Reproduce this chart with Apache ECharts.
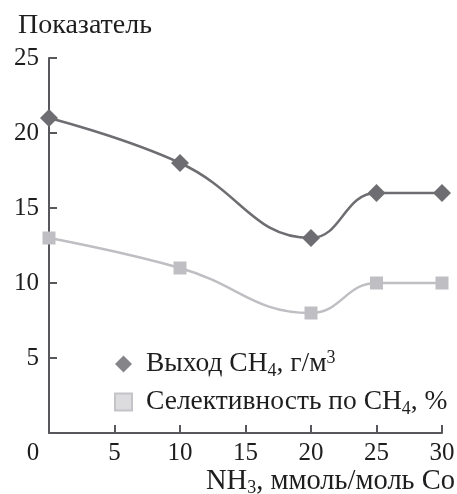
<!DOCTYPE html>
<html>
<head>
<meta charset="utf-8">
<script src="https://cdn.jsdelivr.net/npm/echarts@6/dist/echarts.min.js"></script>
<style>
html,body{margin:0;padding:0;background:#fff;}
#chart{width:457px;height:494px;}
</style>
</head>
<body>
<div id="chart"></div>
<script>
// Data
var xValues = [0, 10, 20, 25, 30];
var yieldCH4 = [21, 18, 13, 16, 16];
var selectivityCH4 = [13, 11, 8, 10, 10];
var xTicks = [0, 5, 10, 15, 20, 25, 30];
var yTicks = [0, 5, 10, 15, 20, 25];

var FONT = '"Liberation Serif", "Times New Roman", serif';
var AXIS_COLOR = '#58585c';
var DARK = '#6e6e72';
var LIGHT = '#bfbfc3';
var TXT = '#1e1e1e';

function pairs(xs, ys) { return xs.map(function (x, i) { return [x, ys[i]]; }); }

var chart = echarts.init(document.getElementById('chart'));
chart.setOption({
  backgroundColor: '#fff',
  animation: false,
  grid: { left: 49, right: 15, top: 58, bottom: 61, containLabel: false, outerBoundsMode: 'none' },
  title: {
    text: 'Показатель', left: 13, top: 7,
    textStyle: { fontFamily: FONT, fontSize: 28, fontWeight: 'normal', color: TXT }
  },
  legend: {
    orient: 'vertical', left: 109, top: 344, itemGap: 8,
    itemWidth: 17, itemHeight: 17,
    textStyle: {
      fontFamily: FONT, fontSize: 27.5, color: TXT, padding: [0, 0, 0, 9],
      rich: {
        n: { fontFamily: FONT, fontSize: 27.5, color: TXT },
        sub: { fontFamily: FONT, fontSize: 18, color: TXT, padding: [14, 0, 0, 0] },
        sup: { fontFamily: FONT, fontSize: 18, color: TXT, padding: [0, 0, 12, 0] }
      }
    },
    formatter: function (name) {
      if (name === 'yield') return '{n|Выход CH}{sub|4}{n|, г/м}{sup|3}';
      return '{n|Селективность по CH}{sub|4}{n|, %}';
    },
    data: [
      { name: 'yield', icon: 'diamond', itemStyle: { color: '#858589' } },
      { name: 'sel', icon: 'rect', itemStyle: { color: '#dcdcdf', borderColor: '#c4c4c8', borderWidth: 2 } }
    ]
  },
  xAxis: {
    type: 'value', min: 0, max: 30, interval: 5,
    name: '{n|NH}{sub|3}{n|, ммоль/моль Co}',
    nameLocation: 'end', nameGap: 13,
    nameTextStyle: {
      align: 'right', verticalAlign: 'top', padding: [34, 0, 0, 0],
      rich: {
        n: { fontFamily: FONT, fontSize: 28.5, color: TXT },
        sub: { fontFamily: FONT, fontSize: 18, color: TXT, padding: [12, 0, 0, 0] }
      }
    },
    axisLine: { lineStyle: { color: AXIS_COLOR, width: 2 } },
    axisTick: { inside: true, length: 8, lineStyle: { color: AXIS_COLOR, width: 2 } },
    splitLine: { show: false },
    axisLabel: {
      margin: 8, fontFamily: FONT, fontSize: 25, color: TXT,
      formatter: function (v) { return v === 0 ? '{z|0}' : String(v); },
      rich: { z: { fontFamily: FONT, fontSize: 25, color: TXT, padding: [0, 32, 0, 0] } }
    }
  },
  yAxis: {
    type: 'value', min: 0, max: 25, interval: 5,
    axisLine: { show: true, lineStyle: { color: AXIS_COLOR, width: 2 } },
    axisTick: { show: true, inside: true, length: 8, lineStyle: { color: AXIS_COLOR, width: 2 } },
    splitLine: { show: false },
    axisLabel: {
      margin: 10, fontFamily: FONT, fontSize: 25, color: TXT,
      formatter: function (v) { return v === 0 ? '' : String(v); }
    }
  },
  series: [
    {
      name: 'yield', type: 'line', data: pairs(xValues, yieldCH4),
      smooth: 0.45, symbol: 'diamond', symbolSize: 18,
      lineStyle: { color: DARK, width: 2.5 },
      itemStyle: { color: DARK }
    },
    {
      name: 'sel', type: 'line', data: pairs(xValues, selectivityCH4),
      smooth: 0.45, symbol: 'rect', symbolSize: 13,
      lineStyle: { color: LIGHT, width: 2.5 },
      itemStyle: { color: LIGHT }
    }
  ]
});
</script>
</body>
</html>
